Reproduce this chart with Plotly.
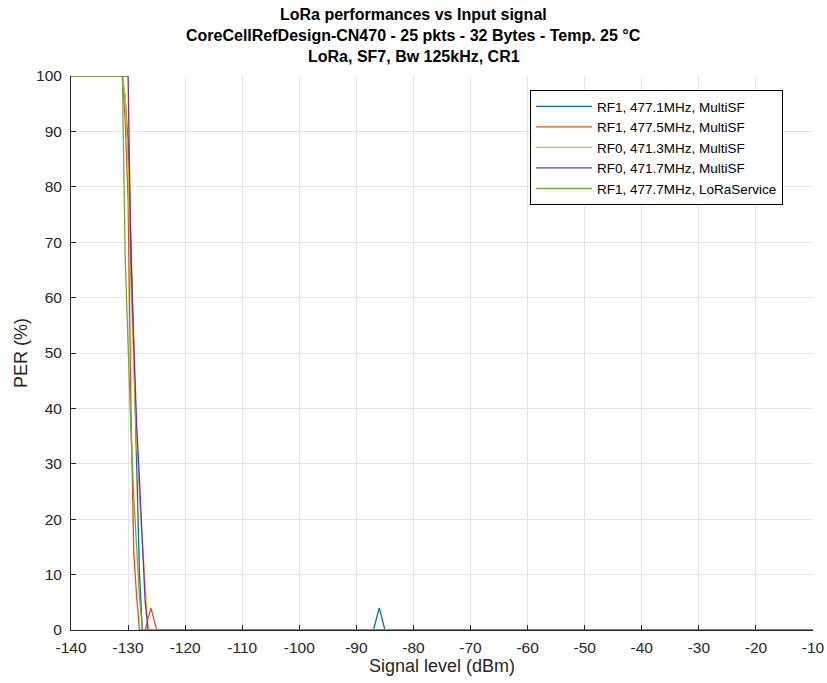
import plotly.graph_objects as go

# Signal levels (dBm) at which the PER curves are drawn
signal_dbm = [-140, -135, -131.5, -131, -130.5, -130, -129.5, -129, -128.5, -128,
              -127.5, -127, -126.5, -126, -125.5, -125, -120, -110, -100, -90,
              -87, -86, -85, -80, -70, -60, -50, -40, -30, -20, -10]

# Packet error rate (%) for each radio path / channel
per_rf1_4771 = [100, 100, 100, 100, 96, 88, 70, 50, 30, 10,
                0, 0, 0, 0, 0, 0, 0, 0, 0, 0,
                0, 4, 0, 0, 0, 0, 0, 0, 0, 0, 0]
per_rf1_4775 = [100, 100, 100, 100, 92, 78, 40, 14, 6, 0,
                0, 0, 2, 4, 2, 0, 0, 0, 0, 0,
                0, 0, 0, 0, 0, 0, 0, 0, 0, 0, 0]
per_rf0_4713 = [100, 100, 100, 100, 96, 84, 62, 46, 34, 24,
                16, 8, 0, 0, 0, 0, 0, 0, 0, 0,
                0, 0, 0, 0, 0, 0, 0, 0, 0, 0, 0]
per_rf0_4717 = [100, 100, 100, 100, 100, 100, 67, 50, 37, 27,
                17, 5, 0, 0, 0, 0, 0, 0, 0, 0,
                0, 0, 0, 0, 0, 0, 0, 0, 0, 0, 0]
per_rf1_4777 = [100, 100, 100, 100, 67, 50, 36, 24, 14, 6,
                0, 0, 0, 0, 0, 0, 0, 0, 0, 0,
                0, 0, 0, 0, 0, 0, 0, 0, 0, 0, 0]

series = [
    ("RF1, 477.1MHz, MultiSF", per_rf1_4771, "#0072BD"),
    ("RF1, 477.5MHz, MultiSF", per_rf1_4775, "#D95319"),
    ("RF0, 471.3MHz, MultiSF", per_rf0_4713, "#EDB120"),
    ("RF0, 471.7MHz, MultiSF", per_rf0_4717, "#7E2F8E"),
    ("RF1, 477.7MHz, LoRaService", per_rf1_4777, "#77AC30"),
]

title_lines = [
    "LoRa performances vs Input signal",
    "CoreCellRefDesign-CN470 - 25 pkts - 32 Bytes - Temp. 25 °C",
    "LoRa, SF7, Bw 125kHz, CR1",
]

x_ticks = list(range(-140, 0, 10))
y_ticks = list(range(0, 101, 10))

fig = go.Figure()
for name, per, color in series:
    fig.add_trace(go.Scatter(
        x=signal_dbm, y=per, mode="lines", name=name,
        line=dict(color=color, width=1.3),
    ))

font_family = "Liberation Sans, Arial, sans-serif"

# Three-line bold title, centred on the figure
for i, line in enumerate(title_lines):
    fig.add_annotation(
        text=f"<b>{line}</b>", showarrow=False,
        xref="paper", yref="paper", x=0.4616, y=1.111 - i * 0.0375,
        xanchor="center", yanchor="middle",
        font=dict(size=16, color="black", family=font_family),
    )

fig.update_layout(
    width=827, height=683,
    paper_bgcolor="white", plot_bgcolor="white",
    margin=dict(l=71, r=14, t=76, b=53, autoexpand=False),
    font=dict(family=font_family, size=15.5, color="#262626"),
    showlegend=True,
    legend=dict(
        x=0.9596, xanchor="right", y=0.9747, yanchor="top",
        bgcolor="white", bordercolor="black", borderwidth=1,
        font=dict(size=13.5, color="black", family=font_family),
        tracegroupgap=0, itemwidth=56,
    ),
    xaxis=dict(
        range=[-140, -10], tickvals=x_ticks,
        ticktext=[str(v) for v in x_ticks],
        showgrid=True, gridcolor="#e3e3e3", gridwidth=1,
        showline=True, linecolor="#262626", linewidth=1,
        ticks="inside", ticklen=5, tickcolor="#262626",
        zeroline=False, mirror=False, ticklabelstandoff=3,
        title=dict(text="Signal level (dBm)", font=dict(size=18), standoff=4),
        tickfont=dict(size=15.5),
    ),
    yaxis=dict(
        range=[0, 100], tickvals=y_ticks,
        showgrid=True, gridcolor="#e3e3e3", gridwidth=1,
        showline=True, linecolor="#262626", linewidth=1,
        ticks="inside", ticklen=5, tickcolor="#262626",
        zeroline=False, mirror=False, ticklabelstandoff=5,
        title=dict(text="PER (%)", font=dict(size=18), standoff=3),
        tickfont=dict(size=15.5),
    ),
)

fig.write_html("out.html")
